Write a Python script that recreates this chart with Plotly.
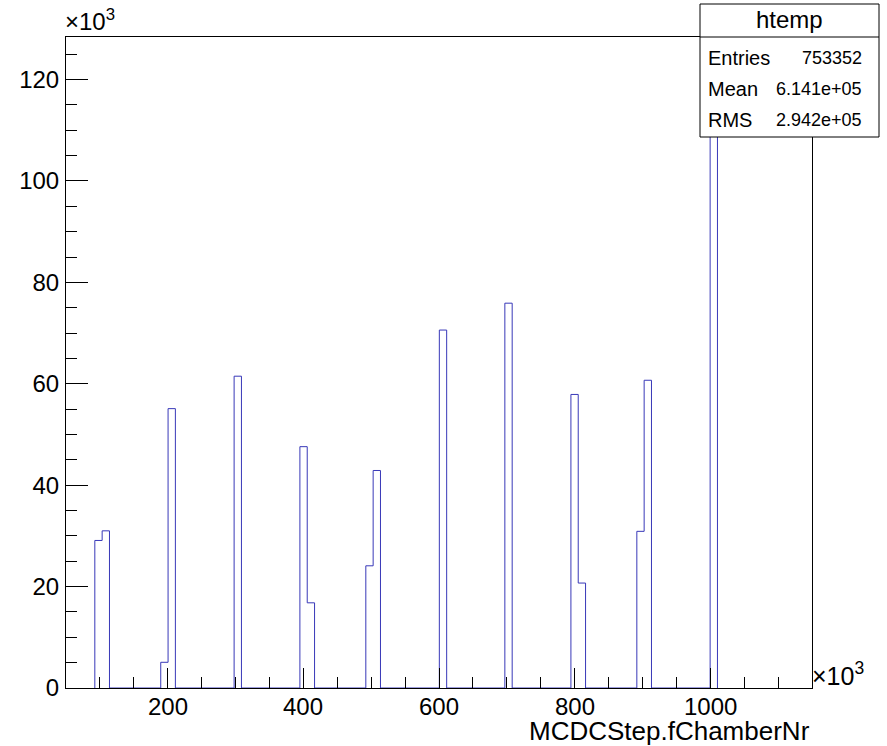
import plotly.graph_objects as go

# ---------------- data (x in units of 10^3, counts in units of 10^3) ----------------
bin_width = 10.8
bin_low_edges = [92.5, 103.3, 189.7, 200.5, 297.9, 394.9, 405.7, 492.1, 502.9,
                 600.5, 697.1, 794.5, 805.3, 891.7, 902.5, 999.8]
bin_counts = [29.1, 31.0, 5.07, 55.1, 61.5, 47.6, 16.8, 24.1, 42.9,
              70.6, 75.9, 57.9, 20.7, 30.9, 60.7, 122.3]

x_tick_vals = [200, 400, 600, 800, 1000]
x_tick_text = ["200", "400", "600", "800", "1000"]
y_tick_vals = [0, 20, 40, 60, 80, 100, 120]
y_tick_text = ["0", "20", "40", "60", "80", "100", "120"]

stats_title = "htemp"
stats_names = ["Entries", "Mean", "RMS"]
stats_values = ["753352", "6.141e+05", "2.942e+05"]
x_title = "MCDCStep.fChamberNr"

x_range = [50, 1150]
y_range = [0, 128.4]

# ---------------- build histogram outline ----------------
px_, py_ = [], []
prev_right = None
for left, c in zip(bin_low_edges, bin_counts):
    if prev_right is None or abs(left - prev_right) > 0.5:
        if prev_right is not None:
            px_.append(prev_right); py_.append(0)
        px_.append(left); py_.append(0)
    else:
        left = prev_right
    px_.append(left); py_.append(c)
    px_.append(left + bin_width); py_.append(c)
    prev_right = left + bin_width
px_.append(prev_right); py_.append(0)

W, H = 887, 746
L, R, T, B = 66, 812, 37, 688
FONT = "Liberation Sans, Arial, Helvetica, sans-serif"


def fx(p):
    return (p - L) / (R - L)


def fy(p):
    return (B - p) / (B - T)


fig = go.Figure()
fig.add_trace(go.Scatter(x=px_, y=py_, mode="lines",
                         line=dict(color="#3838b8", width=1),
                         hoverinfo="skip", showlegend=False))

axis_common = dict(showline=True, linecolor="black", linewidth=1, mirror=True,
                   showgrid=False, zeroline=False, ticks="inside",
                   tickcolor="black", tickwidth=1, automargin=False,
                   tickfont=dict(family=FONT, size=24, color="black"))

fig.update_xaxes(range=x_range, tickmode="array", tickvals=x_tick_vals,
                 ticktext=x_tick_text, ticklen=20, showticklabels=False,
                 minor=dict(ticks="inside", dtick=50, tick0=0, ticklen=11,
                            tickcolor="black", tickwidth=1),
                 **axis_common)
fig.update_yaxes(range=y_range, tickmode="array", tickvals=y_tick_vals,
                 ticktext=y_tick_text, ticklen=22, ticklabelstandoff=1,
                 minor=dict(ticks="inside", dtick=5, tick0=0, ticklen=11,
                            tickcolor="black", tickwidth=1),
                 **axis_common)

# stats box
box_l, box_r, box_t, box_b, box_div = 700, 879, 4, 137, 37
fig.add_shape(type="rect", xref="paper", yref="paper",
              x0=fx(box_l), x1=fx(box_r), y0=fy(box_b), y1=fy(box_t),
              line=dict(color="black", width=1), fillcolor="white", layer="above")
fig.add_shape(type="line", xref="paper", yref="paper",
              x0=fx(box_l), x1=fx(box_r), y0=fy(box_div), y1=fy(box_div),
              line=dict(color="black", width=1), layer="above")

ann = []
# x tick labels placed just under the axis
for v, t in zip(x_tick_vals, x_tick_text):
    ann.append(dict(text=t, x=v, xref="x", y=fy(691), yref="paper",
                    xanchor="center", yanchor="top",
                    font=dict(family=FONT, size=24, color="black")))

ann.append(dict(text=stats_title, x=fx((box_l + box_r) / 2), y=fy(20),
                xanchor="center", yanchor="middle",
                font=dict(family=FONT, size=24, color="black")))
row_y = [58, 89, 120]
for name, val, yy in zip(stats_names, stats_values, row_y):
    ann.append(dict(text=name, x=fx(706), y=fy(yy), xanchor="left", yanchor="middle",
                    font=dict(family=FONT, size=20, color="black")))
    ann.append(dict(text=val, x=fx(864), y=fy(yy), xanchor="right", yanchor="middle",
                    font=dict(family=FONT, size=18, color="black")))

ann.append(dict(text="×10<sup>3</sup>", x=fx(63), y=fy(37), xanchor="left",
                yanchor="bottom", font=dict(family=FONT, size=24, color="black")))
ann.append(dict(text="×10<sup>3</sup>", x=fx(810), y=fy(692), xanchor="left",
                yanchor="bottom", font=dict(family=FONT, size=25, color="black")))
ann.append(dict(text=x_title, x=fx(812), y=fy(714), xanchor="right",
                yanchor="top", font=dict(family=FONT, size=26, color="black")))

for a in ann:
    a.setdefault("xref", "paper")
    a.setdefault("yref", "paper")
    a["showarrow"] = False

fig.update_layout(width=W, height=H, margin=dict(l=L, r=W - R, t=T, b=H - B, autoexpand=False),
                  plot_bgcolor="white", paper_bgcolor="white",
                  annotations=ann, showlegend=False)

fig.write_html("out.html", config={"displayModeBar": False},
               post_script="document.body.style.margin='0';document.body.style.overflow='hidden';")
